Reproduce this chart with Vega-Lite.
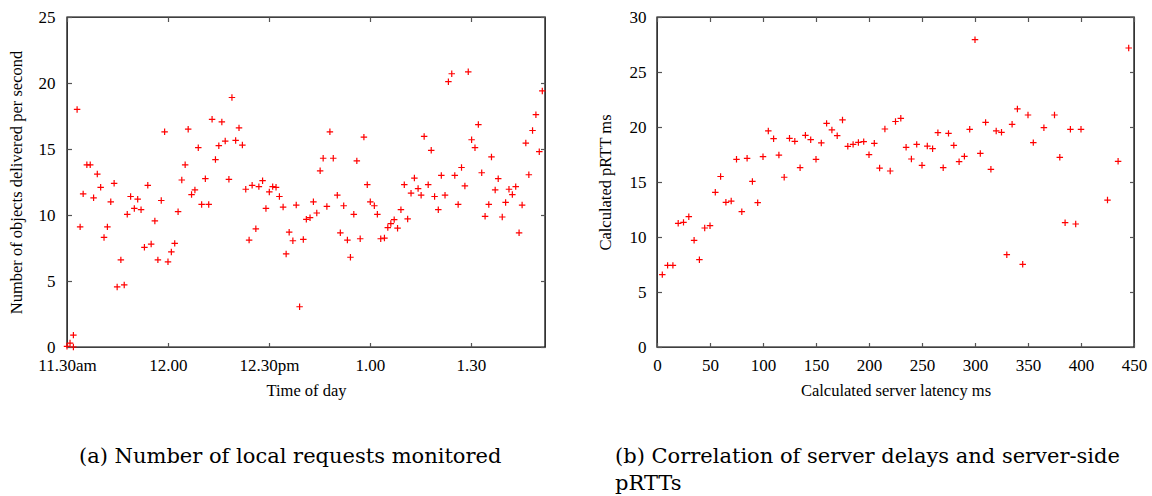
{
  "$schema": "https://vega.github.io/schema/vega-lite/v6.json",
  "padding": {"left": 7, "top": 7, "right": 0, "bottom": 0},
  "background": "white",
  "config": {
    "font": "Liberation Serif",
    "view": {"stroke": "#000000", "strokeWidth": 1.4},
    "axis": {
      "grid": false,
      "domain": false,
      "tickSize": -4.5,
      "tickColor": "#555555",
      "tickWidth": 1.2,
      "labelFont": "Liberation Serif",
      "labelFontSize": 17,
      "labelColor": "#000000",
      "labelFlush": false,
      "labelOverlap": false,
      "titleFont": "Liberation Serif",
      "titleFontSize": 16.5,
      "titleFontWeight": "normal",
      "titleColor": "#000000"
    },
    "title": {"font": "DejaVu Serif", "fontSize": 21, "fontWeight": "normal", "color": "#000000"}
  },
  "datasets": {
    "requests": [
      {"minute": 0, "objects": 0.05}, {"minute": 0.9, "objects": 0.3}, {"minute": 1.9, "objects": 0.0}, {"minute": 1.9, "objects": 0.9},
      {"minute": 3.0, "objects": 18.0}, {"minute": 3.9, "objects": 9.1}, {"minute": 4.8, "objects": 11.6}, {"minute": 5.9, "objects": 13.8},
      {"minute": 6.9, "objects": 13.8}, {"minute": 7.9, "objects": 11.3}, {"minute": 9.0, "objects": 13.1}, {"minute": 10.0, "objects": 12.1},
      {"minute": 11.0, "objects": 8.3}, {"minute": 12.0, "objects": 9.1}, {"minute": 13.0, "objects": 11.0}, {"minute": 14.0, "objects": 12.4},
      {"minute": 14.9, "objects": 4.55}, {"minute": 16.0, "objects": 6.6}, {"minute": 17.0, "objects": 4.7}, {"minute": 17.9, "objects": 10.05},
      {"minute": 18.9, "objects": 11.4}, {"minute": 20.0, "objects": 10.5}, {"minute": 21.0, "objects": 11.2}, {"minute": 22.0, "objects": 10.4},
      {"minute": 23.0, "objects": 7.55}, {"minute": 24.0, "objects": 12.25}, {"minute": 25.0, "objects": 7.8}, {"minute": 26.1, "objects": 9.55},
      {"minute": 27.0, "objects": 6.6}, {"minute": 28.0, "objects": 11.1}, {"minute": 29.0, "objects": 16.3}, {"minute": 30.0, "objects": 6.45},
      {"minute": 31.0, "objects": 7.2}, {"minute": 32.0, "objects": 7.85}, {"minute": 33.0, "objects": 10.25}, {"minute": 34.1, "objects": 12.65},
      {"minute": 35.1, "objects": 13.8}, {"minute": 36.0, "objects": 16.5}, {"minute": 37.0, "objects": 11.55}, {"minute": 38.0, "objects": 11.9},
      {"minute": 39.0, "objects": 15.1}, {"minute": 40.0, "objects": 10.8}, {"minute": 41.1, "objects": 12.75}, {"minute": 42.1, "objects": 10.8},
      {"minute": 43.1, "objects": 17.25}, {"minute": 44.1, "objects": 14.2}, {"minute": 45.1, "objects": 15.25}, {"minute": 46.0, "objects": 17.05},
      {"minute": 47.0, "objects": 15.6}, {"minute": 48.1, "objects": 12.7}, {"minute": 49.0, "objects": 18.9}, {"minute": 50.1, "objects": 15.65},
      {"minute": 51.1, "objects": 16.6}, {"minute": 52.1, "objects": 15.3}, {"minute": 53.1, "objects": 11.95}, {"minute": 54.1, "objects": 8.1},
      {"minute": 55.0, "objects": 12.25}, {"minute": 56.1, "objects": 8.95}, {"minute": 57.0, "objects": 12.15}, {"minute": 58.1, "objects": 12.6},
      {"minute": 59.1, "objects": 10.5}, {"minute": 60.1, "objects": 11.75}, {"minute": 61.1, "objects": 12.15}, {"minute": 62.1, "objects": 12.1},
      {"minute": 63.1, "objects": 11.4}, {"minute": 64.2, "objects": 10.6}, {"minute": 65.1, "objects": 7.05}, {"minute": 66.0, "objects": 8.7},
      {"minute": 67.1, "objects": 8.05}, {"minute": 68.1, "objects": 10.75}, {"minute": 69.1, "objects": 3.05}, {"minute": 70.2, "objects": 8.15},
      {"minute": 71.1, "objects": 9.67}, {"minute": 72.2, "objects": 9.8}, {"minute": 73.2, "objects": 11.0}, {"minute": 74.2, "objects": 10.15},
      {"minute": 75.2, "objects": 13.35}, {"minute": 76.1, "objects": 14.3}, {"minute": 77.2, "objects": 10.65}, {"minute": 78.1, "objects": 16.3},
      {"minute": 79.1, "objects": 14.3}, {"minute": 80.3, "objects": 11.5}, {"minute": 81.2, "objects": 8.65}, {"minute": 82.2, "objects": 10.7},
      {"minute": 83.3, "objects": 8.1}, {"minute": 84.2, "objects": 6.8}, {"minute": 85.2, "objects": 10.05}, {"minute": 86.1, "objects": 14.1},
      {"minute": 87.1, "objects": 8.2}, {"minute": 88.2, "objects": 15.9}, {"minute": 89.2, "objects": 12.3}, {"minute": 90.1, "objects": 11.0},
      {"minute": 91.3, "objects": 10.7}, {"minute": 92.2, "objects": 10.05}, {"minute": 93.2, "objects": 8.2}, {"minute": 94.3, "objects": 8.25},
      {"minute": 95.3, "objects": 9.05}, {"minute": 96.2, "objects": 9.35}, {"minute": 97.2, "objects": 9.65}, {"minute": 98.2, "objects": 9.0},
      {"minute": 99.2, "objects": 10.4}, {"minute": 100.2, "objects": 12.3}, {"minute": 101.2, "objects": 9.7}, {"minute": 102.2, "objects": 11.65},
      {"minute": 103.2, "objects": 12.8}, {"minute": 104.3, "objects": 12.0}, {"minute": 105.2, "objects": 11.5}, {"minute": 106.1, "objects": 15.95},
      {"minute": 107.3, "objects": 12.3}, {"minute": 108.2, "objects": 14.9}, {"minute": 109.2, "objects": 11.4}, {"minute": 110.3, "objects": 10.4},
      {"minute": 111.2, "objects": 13.0}, {"minute": 112.3, "objects": 11.5}, {"minute": 113.3, "objects": 20.1}, {"minute": 114.3, "objects": 20.7},
      {"minute": 115.2, "objects": 13.0}, {"minute": 116.2, "objects": 10.8}, {"minute": 117.2, "objects": 13.6}, {"minute": 118.2, "objects": 12.2},
      {"minute": 119.2, "objects": 20.85}, {"minute": 120.2, "objects": 15.7}, {"minute": 121.2, "objects": 15.1}, {"minute": 122.2, "objects": 16.85},
      {"minute": 123.2, "objects": 13.2}, {"minute": 124.2, "objects": 9.9}, {"minute": 125.3, "objects": 10.8}, {"minute": 126.1, "objects": 14.4},
      {"minute": 127.2, "objects": 11.9}, {"minute": 128.1, "objects": 12.75}, {"minute": 129.3, "objects": 9.85}, {"minute": 130.3, "objects": 10.95},
      {"minute": 131.3, "objects": 11.95}, {"minute": 132.3, "objects": 11.55}, {"minute": 133.3, "objects": 12.15}, {"minute": 134.3, "objects": 8.65},
      {"minute": 135.2, "objects": 10.75}, {"minute": 136.3, "objects": 15.45}, {"minute": 137.2, "objects": 13.05}, {"minute": 138.3, "objects": 16.4},
      {"minute": 139.3, "objects": 17.6}, {"minute": 140.3, "objects": 14.8}, {"minute": 141.2, "objects": 19.4}
    ],
    "latency": [
      {"latency": 5, "prtt": 6.58}, {"latency": 10, "prtt": 7.42}, {"latency": 15, "prtt": 7.42}, {"latency": 20, "prtt": 11.24},
      {"latency": 25, "prtt": 11.33}, {"latency": 30, "prtt": 11.85}, {"latency": 35, "prtt": 9.7}, {"latency": 40, "prtt": 7.94},
      {"latency": 45, "prtt": 10.82}, {"latency": 50, "prtt": 11.03}, {"latency": 55, "prtt": 14.06}, {"latency": 60, "prtt": 15.5},
      {"latency": 65, "prtt": 13.15}, {"latency": 70, "prtt": 13.27}, {"latency": 75, "prtt": 17.06}, {"latency": 80, "prtt": 12.3},
      {"latency": 85, "prtt": 17.15}, {"latency": 90, "prtt": 15.05}, {"latency": 95, "prtt": 13.12}, {"latency": 100, "prtt": 17.3},
      {"latency": 105, "prtt": 19.64}, {"latency": 110, "prtt": 18.94}, {"latency": 115, "prtt": 17.45}, {"latency": 120, "prtt": 15.43},
      {"latency": 125, "prtt": 18.97}, {"latency": 130, "prtt": 18.7}, {"latency": 135, "prtt": 16.3}, {"latency": 140, "prtt": 19.24},
      {"latency": 145, "prtt": 18.85}, {"latency": 150, "prtt": 17.06}, {"latency": 155, "prtt": 18.55}, {"latency": 160, "prtt": 20.33},
      {"latency": 165, "prtt": 19.73}, {"latency": 170, "prtt": 19.21}, {"latency": 175, "prtt": 20.64}, {"latency": 180, "prtt": 18.24},
      {"latency": 185, "prtt": 18.42}, {"latency": 190, "prtt": 18.6}, {"latency": 195, "prtt": 18.67}, {"latency": 200, "prtt": 17.48},
      {"latency": 205, "prtt": 18.52}, {"latency": 210, "prtt": 16.27}, {"latency": 215, "prtt": 19.82}, {"latency": 220, "prtt": 16.0},
      {"latency": 225, "prtt": 20.5}, {"latency": 230, "prtt": 20.79}, {"latency": 235, "prtt": 18.15}, {"latency": 240, "prtt": 17.09},
      {"latency": 245, "prtt": 18.42}, {"latency": 250, "prtt": 16.52}, {"latency": 255, "prtt": 18.27}, {"latency": 260, "prtt": 18.03},
      {"latency": 265, "prtt": 19.48}, {"latency": 270, "prtt": 16.3}, {"latency": 275, "prtt": 19.42}, {"latency": 280, "prtt": 18.33},
      {"latency": 285, "prtt": 16.85}, {"latency": 290, "prtt": 17.33}, {"latency": 295, "prtt": 19.79}, {"latency": 300, "prtt": 27.94},
      {"latency": 305, "prtt": 17.6}, {"latency": 310, "prtt": 20.42}, {"latency": 315, "prtt": 16.15}, {"latency": 320, "prtt": 19.64},
      {"latency": 325, "prtt": 19.52}, {"latency": 330, "prtt": 8.39}, {"latency": 335, "prtt": 20.24}, {"latency": 340, "prtt": 21.64},
      {"latency": 345, "prtt": 7.52}, {"latency": 350, "prtt": 21.09}, {"latency": 355, "prtt": 18.58}, {"latency": 365, "prtt": 19.94},
      {"latency": 375, "prtt": 21.09}, {"latency": 380, "prtt": 17.24}, {"latency": 385, "prtt": 11.3}, {"latency": 390, "prtt": 19.79},
      {"latency": 395, "prtt": 11.18}, {"latency": 400, "prtt": 19.79}, {"latency": 425, "prtt": 13.36}, {"latency": 435, "prtt": 16.88},
      {"latency": 445, "prtt": 27.18}
    ]
  },
  "spacing": 47,
  "hconcat": [
    {
      "width": 478,
      "height": 330,
      "data": {"name": "requests"},
      "title": {"text": "(a) Number of local requests monitored", "orient": "bottom", "anchor": "start", "frame": "group", "dx": 12, "offset": 47},
      "layer": [
        {
          "mark": {"type": "point", "shape": "M-1,0L1,0M0,-1L0,1", "color": "#ff0000", "strokeWidth": 1.2, "size": 42, "filled": false, "opacity": 1},
          "encoding": {
            "x": {"field": "minute", "type": "quantitative", "scale": {"domain": [0, 142], "nice": false, "zero": false},
                  "axis": {"orient": "bottom", "values": [0, 30, 60, 90, 120],
                           "labelExpr": "datum.value == 0 ? '11.30am' : datum.value == 30 ? '12.00' : datum.value == 60 ? '12.30pm' : datum.value == 90 ? '1.00' : '1.30'",
                           "title": "Time of day", "labelPadding": 14.5, "titlePadding": 9}},
            "y": {"field": "objects", "type": "quantitative", "scale": {"domain": [0, 25], "nice": false},
                  "axis": {"orient": "left", "values": [0, 5, 10, 15, 20, 25], "title": "Number of objects delivered per second", "labelPadding": 16.5, "titlePadding": 14}}
          }
        },
        {
          "mark": {"type": "point", "opacity": 0},
          "encoding": {
            "x": {"field": "minute", "type": "quantitative", "axis": {"orient": "top", "values": [0, 30, 60, 90, 120], "labels": false, "title": null}},
            "y": {"field": "objects", "type": "quantitative", "axis": {"orient": "right", "values": [0, 5, 10, 15, 20, 25], "labels": false, "title": null}}
          }
        }
      ],
      "resolve": {"axis": {"x": "independent", "y": "independent"}}
    },
    {
      "width": 477,
      "height": 330,
      "data": {"name": "latency"},
      "title": {"text": ["(b) Correlation of server delays and server-side", "pRTTs"], "orient": "bottom", "anchor": "start", "frame": "group", "align": "left", "dx": -42, "offset": 47, "lineHeight": 27},
      "layer": [
        {
          "mark": {"type": "point", "shape": "M-1,0L1,0M0,-1L0,1", "color": "#ff0000", "strokeWidth": 1.2, "size": 42, "filled": false, "opacity": 1},
          "encoding": {
            "x": {"field": "latency", "type": "quantitative", "scale": {"domain": [0, 450], "nice": false},
                  "axis": {"orient": "bottom", "values": [0, 50, 100, 150, 200, 250, 300, 350, 400, 450], "title": "Calculated server latency ms", "labelPadding": 14.5, "titlePadding": 9}},
            "y": {"field": "prtt", "type": "quantitative", "scale": {"domain": [0, 30], "nice": false},
                  "axis": {"orient": "left", "values": [0, 5, 10, 15, 20, 25, 30], "title": "Calculated pRTT ms", "labelPadding": 15.5, "titlePadding": 16}}
          }
        },
        {
          "mark": {"type": "point", "opacity": 0},
          "encoding": {
            "x": {"field": "latency", "type": "quantitative", "axis": {"orient": "top", "values": [0, 50, 100, 150, 200, 250, 300, 350, 400, 450], "labels": false, "title": null}},
            "y": {"field": "prtt", "type": "quantitative", "axis": {"orient": "right", "values": [0, 5, 10, 15, 20, 25, 30], "labels": false, "title": null}}
          }
        }
      ],
      "resolve": {"axis": {"x": "independent", "y": "independent"}}
    }
  ]
}
